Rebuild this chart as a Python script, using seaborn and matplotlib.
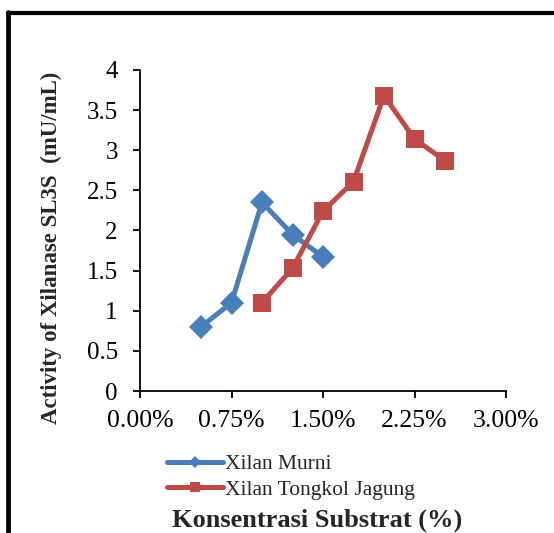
import matplotlib
matplotlib.use("Agg")
import matplotlib.pyplot as plt
from matplotlib.lines import Line2D
from matplotlib.ticker import PercentFormatter, MultipleLocator, FuncFormatter
import seaborn as sns
import pandas as pd

# Substrate concentration (%) and xylanase activity (mU/mL)
murni_conc = [0.50, 0.75, 1.00, 1.25, 1.50]
murni_act = [0.80, 1.10, 2.35, 1.95, 1.67]

jagung_conc = [1.00, 1.25, 1.50, 1.75, 2.00, 2.25, 2.50]
jagung_act = [1.10, 1.53, 2.24, 2.61, 3.68, 3.14, 2.87]

series_names = ["Xilan Murni", "Xilan Tongkol Jagung"]
colors = ["#4A7EBB", "#BE4B48"]
markers = ["D", "s"]
marker_sizes = [12, 13.5]

df = pd.concat([
    pd.DataFrame({"conc": murni_conc, "act": murni_act, "series": series_names[0]}),
    pd.DataFrame({"conc": jagung_conc, "act": jagung_act, "series": series_names[1]}),
])

sns.set_style("white")
plt.rcParams["font.family"] = ["Liberation Serif", "DejaVu Serif"]

fig = plt.figure(figsize=(5.54, 5.33), dpi=100)
ax = fig.add_axes([0.2527, 0.2664, 0.6607, 0.6023])

for name, c, m, ms in zip(series_names, colors, markers, marker_sizes):
    sub = df[df["series"] == name]
    sns.lineplot(data=sub, x="conc", y="act", ax=ax, color=c, marker=m,
                 markersize=ms, markeredgewidth=0, linewidth=3.6,
                 legend=False, sort=False)

ax.set_xlim(0, 3.0)
ax.set_ylim(0, 4)
ax.xaxis.set_major_locator(MultipleLocator(0.75))
ax.yaxis.set_major_locator(MultipleLocator(0.5))
ax.xaxis.set_major_formatter(PercentFormatter(xmax=100, decimals=2))
ax.yaxis.set_major_formatter(FuncFormatter(lambda v, p: f"{v:g}"))

for s in ["top", "right"]:
    ax.spines[s].set_visible(False)
for s in ["left", "bottom"]:
    ax.spines[s].set_color("black")
    ax.spines[s].set_linewidth(1.3)

ax.tick_params(axis="both", which="major", direction="out", length=5,
               width=1.3, color="black", labelcolor="black",
               bottom=True, left=True)
ax.tick_params(axis="x", labelsize=18.5, pad=9)
ax.tick_params(axis="y", labelsize=18, pad=11)

ax.set_xlabel("")
ax.set_ylabel("Activity of Xilanase SL3S  (mU/mL)", fontsize=16.5,
              fontweight="bold")
ax.yaxis.set_label_coords(-0.212, 0.445)

handles = [Line2D([0], [0], color=c, marker=m, markersize=ms * 0.55,
                  markeredgewidth=0, linewidth=3.6)
           for c, m, ms in zip(colors, markers, marker_sizes)]
leg = fig.legend(handles, series_names, loc="upper left", frameon=False,
                 fontsize=15.5, handlelength=2.6, handletextpad=0.1,
                 labelspacing=0.25, borderaxespad=0, borderpad=0)
leg.set_bbox_to_anchor((0.302, 0.148), transform=fig.transFigure)

fig.text(0.572, 0.024, "Konsentrasi Substrat (%)", ha="center", va="center",
         fontsize=19, fontweight="bold")

# Outer frame of the figure
fig.add_artist(Line2D([0.0144, 0.0144], [0.978, -0.02], color="black",
                      linewidth=3.4, transform=fig.transFigure))
fig.add_artist(Line2D([0.0144, 1.02], [0.975, 0.975], color="black",
                      linewidth=3.0, transform=fig.transFigure))

fig.savefig("out.png", dpi=100)
